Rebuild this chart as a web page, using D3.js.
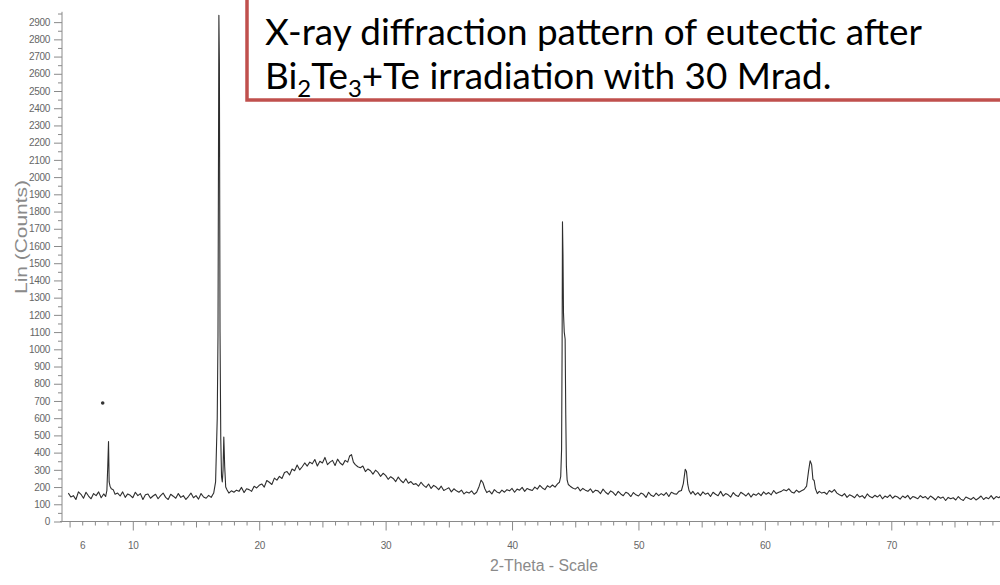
<!DOCTYPE html>
<html>
<head>
<meta charset="utf-8">
<script src="https://cdn.jsdelivr.net/npm/d3@7"></script>
<style>
  html, body { margin: 0; padding: 0; background: #fff; }
  svg { display: block; }
</style>
</head>
<body>
<svg id="chart" width="1000" height="585"></svg>
<script>
// ---- data (2-Theta in degrees, Lin counts) ----
const twoTheta = [
  4.9, 5.1, 5.3, 5.5, 5.7, 5.9, 6.1, 6.3, 6.5, 6.7,
  6.9, 7.1, 7.3, 7.5, 7.7, 7.85, 7.95, 8.02, 8.08, 8.13,
  8.2, 8.3, 8.45, 8.6, 8.8, 9.0, 9.2, 9.4, 9.6, 9.8,
  10.0, 10.2, 10.4, 10.6, 10.8, 11.0, 11.2, 11.4, 11.6, 11.8,
  12.0, 12.2, 12.4, 12.6, 12.8, 13.0, 13.2, 13.4, 13.6, 13.8,
  14.0, 14.2, 14.4, 14.6, 14.8, 15.0, 15.2, 15.4, 15.6, 15.8,
  16.0, 16.2, 16.4, 16.55, 16.68, 16.74, 16.81, 16.85, 16.9, 16.96,
  17.02, 17.08, 17.14, 17.2, 17.27, 17.35, 17.45, 17.6, 17.8, 18.0,
  18.2, 18.4, 18.6, 18.8, 19.0, 19.2, 19.4, 19.6, 19.8, 20.0,
  20.2, 20.4, 20.6, 20.8, 21.0, 21.2, 21.4, 21.6, 21.8, 22.0,
  22.2, 22.4, 22.6, 22.8, 23.0, 23.2, 23.4, 23.6, 23.8, 24.0,
  24.2, 24.4, 24.6, 24.8, 25.0, 25.2, 25.4, 25.6, 25.8, 26.0,
  26.2, 26.4, 26.6, 26.8, 27.0, 27.15, 27.3, 27.45, 27.6, 27.8,
  28.0, 28.2, 28.4, 28.6, 28.8, 29.0, 29.2, 29.4, 29.6, 29.8,
  30.0, 30.2, 30.4, 30.6, 30.8, 31.0, 31.2, 31.4, 31.6, 31.8,
  32.0, 32.2, 32.4, 32.6, 32.8, 33.0, 33.2, 33.4, 33.6, 33.8,
  34.0, 34.2, 34.4, 34.6, 34.8, 35.0, 35.2, 35.4, 35.6, 35.8,
  36.0, 36.2, 36.4, 36.6, 36.8, 37.0, 37.2, 37.4, 37.55, 37.7,
  37.85, 38.0, 38.2, 38.4, 38.6, 38.8, 39.0, 39.2, 39.4, 39.6,
  39.8, 40.0, 40.2, 40.4, 40.6, 40.8, 41.0, 41.2, 41.4, 41.6,
  41.8, 42.0, 42.2, 42.4, 42.6, 42.8, 43.0, 43.2, 43.4, 43.6,
  43.75, 43.85, 43.92, 43.96, 43.99, 44.03, 44.07, 44.13, 44.2, 44.25,
  44.3, 44.36, 44.45, 44.6, 44.8, 45.0, 45.2, 45.4, 45.6, 45.8,
  46.0, 46.2, 46.4, 46.6, 46.8, 47.0, 47.2, 47.4, 47.6, 47.8,
  48.0, 48.2, 48.4, 48.6, 48.8, 49.0, 49.2, 49.4, 49.6, 49.8,
  50.0, 50.2, 50.4, 50.6, 50.8, 51.0, 51.2, 51.4, 51.6, 51.8,
  52.0, 52.2, 52.4, 52.6, 52.8, 53.0, 53.2, 53.4, 53.55, 53.7,
  53.8, 53.9, 54.0, 54.15, 54.3, 54.5, 54.7, 54.9, 55.1, 55.3,
  55.5, 55.7, 55.9, 56.1, 56.3, 56.5, 56.7, 56.9, 57.1, 57.3,
  57.5, 57.7, 57.9, 58.1, 58.3, 58.5, 58.7, 58.9, 59.1, 59.3,
  59.5, 59.7, 59.9, 60.1, 60.3, 60.5, 60.7, 60.9, 61.1, 61.3,
  61.5, 61.7, 61.9, 62.1, 62.3, 62.5, 62.7, 62.9, 63.1, 63.3,
  63.45, 63.58, 63.7, 63.8, 63.9, 64.0, 64.15, 64.3, 64.5, 64.7,
  64.9, 65.1, 65.3, 65.5, 65.7, 65.9, 66.1, 66.3, 66.5, 66.7,
  66.9, 67.1, 67.3, 67.5, 67.7, 67.9, 68.1, 68.3, 68.5, 68.7,
  68.9, 69.1, 69.3, 69.5, 69.7, 69.9, 70.1, 70.3, 70.5, 70.7,
  70.9, 71.1, 71.3, 71.5, 71.7, 71.9, 72.1, 72.3, 72.5, 72.7,
  72.9, 73.1, 73.3, 73.5, 73.7, 73.9, 74.1, 74.3, 74.5, 74.7,
  74.9, 75.1, 75.3, 75.5, 75.7, 75.9, 76.1, 76.3, 76.5, 76.7,
  76.9, 77.1, 77.3, 77.5, 77.7, 77.9, 78.1, 78.3, 78.5, 78.7,
  78.9, 79.1
];
const linCounts = [
  165, 142, 150, 128, 172, 158, 135, 170, 148, 132,
  162, 150, 172, 138, 160, 145, 180, 320, 465, 230,
  205, 190, 185, 158, 165, 148, 172, 140, 160, 152,
  138, 170, 150, 162, 128, 155, 160, 135, 148, 158,
  132, 150, 165, 140, 128, 158, 147, 135, 162, 140,
  150, 128, 145, 165, 138, 150, 130, 162, 142, 135,
  152, 140, 165, 230, 600, 1080, 2940, 2660, 1100, 480,
  260, 230, 300, 490, 320, 200, 185, 165, 178, 170,
  182, 175, 198, 168, 190, 185, 175, 205, 195, 210,
  218, 200, 238, 228, 215, 252, 240, 262, 250, 285,
  290, 270, 305, 295, 328, 300, 318, 340, 322, 345,
  335, 360, 322, 350, 340, 372, 330, 345, 355, 325,
  362, 340, 328, 355, 345, 380, 388, 345, 330, 318,
  312, 322, 290, 305, 295, 275, 298, 285, 262, 280,
  268, 245, 260, 250, 232, 258, 238, 225, 248, 222,
  232, 215, 220, 205, 228, 210, 198, 218, 192, 210,
  200, 185, 205, 180, 188, 196, 172, 190, 178, 170,
  182, 160, 172, 165, 178, 158, 170, 205, 240, 225,
  190, 168, 178, 160, 185, 172, 165, 182, 170, 185,
  178, 192, 170, 188, 182, 198, 175, 192, 185, 180,
  200, 188, 210, 195, 185, 208, 198, 212, 200, 218,
  228, 260, 420, 1000, 1740, 1550, 1210, 1100, 1060, 620,
  320, 240, 215, 205, 195, 188, 200, 178, 192, 182,
  175, 190, 168, 182, 178, 162, 188, 170, 158, 178,
  168, 152, 175, 160, 150, 170, 162, 145, 168, 155,
  148, 165, 158, 140, 170, 152, 145, 165, 150, 162,
  152, 168, 145, 170, 162, 158, 175, 180, 220, 303,
  290, 215, 180, 160, 175, 155, 168, 150, 172, 158,
  165, 145, 170, 158, 150, 175, 148, 162, 155, 142,
  168, 152, 145, 170, 160, 148, 165, 142, 160, 152,
  165, 150, 172, 158, 168, 155, 180, 162, 170, 175,
  185, 178, 190, 172, 165, 182, 170, 178, 186, 205,
  290, 353, 330, 245, 238, 190, 162, 175, 165, 170,
  158, 180, 170, 185, 165, 155, 148, 162, 140, 155,
  148, 138, 158, 142, 150, 135, 160, 145, 138, 152,
  142, 155, 132, 148, 140, 155, 135, 148, 142, 130,
  148, 138, 152, 130, 145, 140, 132, 150, 138, 145,
  130, 148, 138, 125, 145, 135, 142, 122, 140, 132,
  138, 125, 145, 130, 122, 142, 135, 128, 140, 125,
  135, 148, 128, 140, 132, 150, 130, 145, 138, 150,
  140, 148
];
// stray dot in the scan
const strayTheta = [7.62];
const strayCounts = [688];

const yTickValues = d3.range(0, 2901, 100);
const yMinorValues = d3.range(50, 2951, 100);
const xLabelValues = [6, 10, 20, 30, 40, 50, 60, 70];
const xMajorValues = [10, 20, 30, 40, 50, 60, 70];
const xMidValues = [5, 15, 25, 35, 45, 55, 65, 75];
const xMinorValues = d3.range(5, 80, 1);

const titleLine1 = "X-ray diffraction pattern of eutectic after";
const titleLine2 = [["Bi", false], ["2", true], ["Te", false], ["3", true], ["+Te irradiation with 30 Mrad.", false]];
const yTitle = "Lin (Counts)";
const xTitle = "2-Theta - Scale";

// ---- layout ----
const svg = d3.select("#chart");
const x = d3.scaleLinear().domain([4.4, 78.6]).range([62, 1000]);
const y = d3.scaleLinear().domain([0, 2960]).range([521.5, 11.8]);

const axisColor = "#8a8a8a";
const labelColor = "#666";
const fontFam = "'Liberation Sans', Arial, sans-serif";

// y axis
const gy = svg.append("g").attr("transform", "translate(62,0)");
gy.call(d3.axisLeft(y).tickValues(yTickValues).tickSize(8).tickPadding(4).tickFormat(d3.format("d")));
gy.append("g").call(d3.axisLeft(y).tickValues(yMinorValues).tickSize(4).tickFormat(""));
gy.selectAll(".domain").remove();
gy.append("line").attr("x1", 0).attr("x2", 0).attr("y1", y(2960)).attr("y2", y(0)).attr("stroke", axisColor);

// x axis
const gx = svg.append("g").attr("transform", `translate(0,${y(0)})`);
gx.append("g").call(d3.axisBottom(x).tickValues(xMinorValues.filter(v => v % 5 !== 0)).tickSize(4).tickFormat(""));
gx.append("g").call(d3.axisBottom(x).tickValues(xMidValues).tickSize(6).tickFormat(""));
gx.append("g").call(d3.axisBottom(x).tickValues(xMajorValues).tickSize(9).tickFormat(""));
gx.append("g").attr("class", "xlabels").call(d3.axisBottom(x).tickValues(xLabelValues).tickSize(0).tickPadding(20).tickFormat(d3.format("d")));
gx.selectAll(".domain").remove();
gx.append("line").attr("x1", 60).attr("x2", 1000).attr("y1", 0).attr("y2", 0).attr("stroke", axisColor);

svg.selectAll(".tick line").attr("stroke", axisColor);
svg.selectAll(".tick text").attr("fill", labelColor).style("font-family", fontFam).style("font-size", "10px").style("letter-spacing", "-0.3px");

// trace
const pts = twoTheta.map((t, i) => [t, linCounts[i]]);
svg.append("path")
  .datum(pts)
  .attr("fill", "none")
  .attr("stroke", "#2e2e2e")
  .attr("stroke-width", 1.1)
  .attr("stroke-linejoin", "round")
  .attr("d", d3.line().x(d => x(d[0])).y(d => y(d[1])));

svg.selectAll("circle.stray").data(strayTheta).join("circle")
  .attr("class", "stray")
  .attr("cx", (d) => x(d)).attr("cy", (d, i) => y(strayCounts[i])).attr("r", 1.8).attr("fill", "#333");

// axis titles
svg.append("text")
  .attr("transform", "translate(27,237) rotate(-90)")
  .attr("text-anchor", "middle")
  .attr("fill", "#8a8a8a")
  .style("font-family", fontFam).style("font-size", "16px")
  .attr("textLength", 114).attr("lengthAdjust", "spacingAndGlyphs")
  .text(yTitle);
svg.append("text")
  .attr("x", 544).attr("y", 571)
  .attr("text-anchor", "middle")
  .attr("fill", "#8a8a8a")
  .style("font-family", fontFam).style("font-size", "16px")
  .attr("textLength", 108).attr("lengthAdjust", "spacingAndGlyphs")
  .text(xTitle);

// title box
svg.append("rect")
  .attr("x", 247).attr("y", -20).attr("width", 800).attr("height", 120)
  .attr("fill", "#fff").attr("stroke", "#c0504d").attr("stroke-width", 3.5);

const titleFont = "Lato, 'Open Sans', sans-serif";
const t1 = svg.append("text").attr("x", 265).attr("y", 45)
  .attr("fill", "#000").style("font-family", titleFont).style("font-size", "32px").text(titleLine1);
const w1 = t1.node().getComputedTextLength();
const fs = 32 * 657 / w1;
t1.style("font-size", fs + "px");

const t2 = svg.append("text").attr("x", 265).attr("y", 89)
  .attr("fill", "#000").style("font-family", titleFont).style("font-size", fs + "px");
titleLine2.forEach(([s, sub], i) => {
  const prevSub = i > 0 && titleLine2[i - 1][1];
  const ts = t2.append("tspan").text(s);
  if (sub) ts.style("font-size", (fs * 0.65) + "px").attr("dy", fs * 0.22);
  else if (prevSub) ts.attr("dy", -fs * 0.22);
});
</script>
</body>
</html>
